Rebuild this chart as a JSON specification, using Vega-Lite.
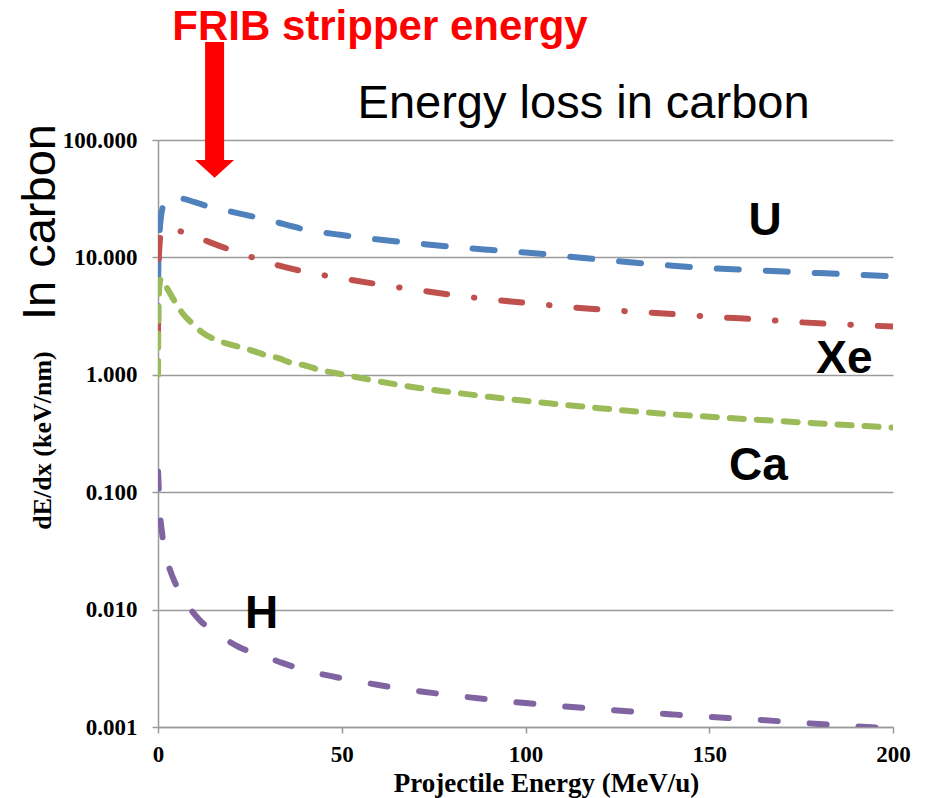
{
  "$schema": "https://vega.github.io/schema/vega-lite/v6.json",
  "width": 735,
  "height": 587,
  "autosize": "none",
  "padding": {"left": 158, "top": 140, "right": 33, "bottom": 71},
  "background": "white",
  "config": {"view": {"stroke": null}},
  "datasets": {
    "curves": [
      {"s": "U", "E": 0.01, "v": 2.5}, {"s": "U", "E": 0.05, "v": 6}, {"s": "U", "E": 0.15, "v": 11}, {"s": "U", "E": 0.4, "v": 16}, {"s": "U", "E": 0.8, "v": 22}, {"s": "U", "E": 1.3, "v": 27}, {"s": "U", "E": 2, "v": 30}, {"s": "U", "E": 3.5, "v": 32}, {"s": "U", "E": 5, "v": 32.2}, {"s": "U", "E": 7, "v": 31.5}, {"s": "U", "E": 10, "v": 29.5}, {"s": "U", "E": 15, "v": 26.5}, {"s": "U", "E": 20, "v": 24.5}, {"s": "U", "E": 30, "v": 20.8}, {"s": "U", "E": 40, "v": 17.3}, {"s": "U", "E": 50, "v": 15.5}, {"s": "U", "E": 60, "v": 14.2}, {"s": "U", "E": 70, "v": 13.2}, {"s": "U", "E": 80, "v": 12.3}, {"s": "U", "E": 90, "v": 11.6}, {"s": "U", "E": 100, "v": 11.0}, {"s": "U", "E": 120, "v": 9.6}, {"s": "U", "E": 140, "v": 8.5}, {"s": "U", "E": 150, "v": 8.1}, {"s": "U", "E": 160, "v": 7.85}, {"s": "U", "E": 180, "v": 7.35}, {"s": "U", "E": 200, "v": 6.9},
      {"s": "Xe", "E": 0.01, "v": 2.2}, {"s": "Xe", "E": 0.05, "v": 4.5}, {"s": "Xe", "E": 0.15, "v": 8}, {"s": "Xe", "E": 0.4, "v": 12.5}, {"s": "Xe", "E": 0.8, "v": 16}, {"s": "Xe", "E": 1.4, "v": 17.3}, {"s": "Xe", "E": 3, "v": 17.2}, {"s": "Xe", "E": 6, "v": 16.7}, {"s": "Xe", "E": 8.5, "v": 16.1}, {"s": "Xe", "E": 13, "v": 13.9}, {"s": "Xe", "E": 20, "v": 11.5}, {"s": "Xe", "E": 27, "v": 9.7}, {"s": "Xe", "E": 33, "v": 8.5}, {"s": "Xe", "E": 40, "v": 7.55}, {"s": "Xe", "E": 48, "v": 6.8}, {"s": "Xe", "E": 60, "v": 5.9}, {"s": "Xe", "E": 70, "v": 5.3}, {"s": "Xe", "E": 80, "v": 4.8}, {"s": "Xe", "E": 90, "v": 4.4}, {"s": "Xe", "E": 100, "v": 4.1}, {"s": "Xe", "E": 120, "v": 3.6}, {"s": "Xe", "E": 140, "v": 3.3}, {"s": "Xe", "E": 150, "v": 3.13}, {"s": "Xe", "E": 163, "v": 2.97}, {"s": "Xe", "E": 175, "v": 2.8}, {"s": "Xe", "E": 185, "v": 2.7}, {"s": "Xe", "E": 200, "v": 2.58},
      {"s": "Ca", "E": 0.01, "v": 1.0}, {"s": "Ca", "E": 0.05, "v": 1.8}, {"s": "Ca", "E": 0.1, "v": 2.8}, {"s": "Ca", "E": 0.2, "v": 4.2}, {"s": "Ca", "E": 0.4, "v": 5.8}, {"s": "Ca", "E": 0.8, "v": 6.6}, {"s": "Ca", "E": 1.5, "v": 6.2}, {"s": "Ca", "E": 2.7, "v": 5.3}, {"s": "Ca", "E": 4.6, "v": 4.2}, {"s": "Ca", "E": 6.5, "v": 3.4}, {"s": "Ca", "E": 9.5, "v": 2.7}, {"s": "Ca", "E": 12, "v": 2.3}, {"s": "Ca", "E": 15.5, "v": 2.0}, {"s": "Ca", "E": 20, "v": 1.8}, {"s": "Ca", "E": 25, "v": 1.63}, {"s": "Ca", "E": 29, "v": 1.48}, {"s": "Ca", "E": 33, "v": 1.38}, {"s": "Ca", "E": 36, "v": 1.27}, {"s": "Ca", "E": 40, "v": 1.2}, {"s": "Ca", "E": 44, "v": 1.1}, {"s": "Ca", "E": 48, "v": 1.04}, {"s": "Ca", "E": 60, "v": 0.88}, {"s": "Ca", "E": 70, "v": 0.78}, {"s": "Ca", "E": 80, "v": 0.71}, {"s": "Ca", "E": 90, "v": 0.65}, {"s": "Ca", "E": 100, "v": 0.6}, {"s": "Ca", "E": 120, "v": 0.52}, {"s": "Ca", "E": 140, "v": 0.46}, {"s": "Ca", "E": 150, "v": 0.44}, {"s": "Ca", "E": 160, "v": 0.42}, {"s": "Ca", "E": 180, "v": 0.385}, {"s": "Ca", "E": 200, "v": 0.355},
      {"s": "H", "E": 0.01, "v": 0.15}, {"s": "H", "E": 0.1, "v": 0.13}, {"s": "H", "E": 0.3, "v": 0.09}, {"s": "H", "E": 0.6, "v": 0.062}, {"s": "H", "E": 1, "v": 0.048}, {"s": "H", "E": 1.5, "v": 0.036}, {"s": "H", "E": 2.5, "v": 0.026}, {"s": "H", "E": 4.1, "v": 0.0186}, {"s": "H", "E": 6.8, "v": 0.0126}, {"s": "H", "E": 11.4, "v": 0.0081}, {"s": "H", "E": 16, "v": 0.0063}, {"s": "H", "E": 22, "v": 0.0048}, {"s": "H", "E": 28, "v": 0.0041}, {"s": "H", "E": 34, "v": 0.0035}, {"s": "H", "E": 40, "v": 0.00305}, {"s": "H", "E": 50, "v": 0.0026}, {"s": "H", "E": 60, "v": 0.00228}, {"s": "H", "E": 70, "v": 0.00204}, {"s": "H", "E": 80, "v": 0.00186}, {"s": "H", "E": 90, "v": 0.00172}, {"s": "H", "E": 100, "v": 0.0016}, {"s": "H", "E": 120, "v": 0.00142}, {"s": "H", "E": 140, "v": 0.00128}, {"s": "H", "E": 150, "v": 0.00122}, {"s": "H", "E": 160, "v": 0.00117}, {"s": "H", "E": 180, "v": 0.00106}, {"s": "H", "E": 200, "v": 0.00097}
    ],
    "labels": [
      {"t": "U", "E": 165.2, "v": 15.5},
      {"t": "Xe", "E": 186.8, "v": 1.035},
      {"t": "Ca", "E": 163.4, "v": 0.127},
      {"t": "H", "E": 28.2, "v": 0.00697}
    ],
    "title": [{"t": "Energy loss in carbon", "E": 115.8, "v": 154}],
    "frib": [{"t": "FRIB stripper energy", "E": 60.4, "v": 711}],
    "side": [{"t": "In carbon", "E": -28, "v": 20}],
    "arrow": [{"E": 15.4, "top": 684, "bottom": 67.7}]
  },
  "layer": [
    {
      "data": {"name": "curves"},
      "mark": {"type": "line", "strokeWidth": 6, "strokeCap": "round", "interpolate": "monotone", "clip": true},
      "encoding": {
        "x": {"field": "E", "type": "quantitative",
          "scale": {"domain": [0, 200], "nice": false, "zero": false},
          "axis": {"values": [0, 50, 100, 150, 200], "grid": false, "title": "Projectile Energy (MeV/u)",
            "labelFont": "Liberation Serif", "labelFontWeight": "bold", "labelFontSize": 23, "labelColor": "black",
            "labelPadding": 10, "tickSize": 6, "tickColor": "#9A9A9A", "tickWidth": 1.5, "domainColor": "#9A9A9A", "domainWidth": 1.5,
            "titleFont": "Liberation Serif", "titleFontWeight": "bold", "titleFontSize": 27, "titleColor": "black",
            "titleX": 388, "titleY": 64, "titleBaseline": "alphabetic", "titleAlign": "center", "labelFlush": false}},
        "y": {"field": "v", "type": "quantitative",
          "scale": {"type": "log", "domain": [0.001, 100], "nice": false},
          "axis": {"values": [0.001, 0.01, 0.1, 1, 10, 100], "format": ".3f", "grid": true, "gridColor": "#9A9A9A", "gridWidth": 1.5,
            "title": "dE/dx (keV/nm)",
            "labelFont": "Liberation Serif", "labelFontWeight": "bold", "labelFontSize": 23, "labelColor": "black",
            "labelPadding": 15, "tickSize": 6, "tickColor": "#9A9A9A", "tickWidth": 1.5, "domainColor": "#9A9A9A", "domainWidth": 1.5,
            "titleFont": "Liberation Serif", "titleFontWeight": "bold", "titleFontSize": 26, "titleColor": "black",
            "titleX": -108, "titleY": 300, "titleAngle": 270, "titleBaseline": "alphabetic", "titleAlign": "center", "labelFlush": false}},
        "color": {"field": "s", "type": "nominal",
          "scale": {"domain": ["U", "Xe", "Ca", "H"], "range": ["#4F81BD", "#C0504D", "#9BBB59", "#8064A2"]}, "legend": null},
        "strokeDash": {"field": "s", "type": "nominal",
          "scale": {"domain": ["U", "Xe", "Ca", "H"], "range": [[22, 27], [21, 27, 0.5, 27], [14, 13], [17, 32]]}, "legend": null}
      }
    },
    {
      "data": {"name": "labels"},
      "mark": {"type": "text", "font": "Liberation Sans", "fontWeight": "bold", "fontSize": 46, "color": "black", "align": "center", "baseline": "alphabetic"},
      "encoding": {
        "x": {"field": "E", "type": "quantitative"},
        "y": {"field": "v", "type": "quantitative"},
        "text": {"field": "t"}
      }
    },
    {
      "data": {"name": "title"},
      "mark": {"type": "text", "font": "Liberation Sans", "fontSize": 47, "color": "black", "align": "center", "baseline": "alphabetic"},
      "encoding": {
        "x": {"field": "E", "type": "quantitative"},
        "y": {"field": "v", "type": "quantitative"},
        "text": {"field": "t"}
      }
    },
    {
      "data": {"name": "frib"},
      "mark": {"type": "text", "font": "Liberation Sans", "fontWeight": "bold", "fontSize": 42, "color": "#FF0000", "align": "center", "baseline": "alphabetic"},
      "encoding": {
        "x": {"field": "E", "type": "quantitative"},
        "y": {"field": "v", "type": "quantitative"},
        "text": {"field": "t"}
      }
    },
    {
      "data": {"name": "side"},
      "mark": {"type": "text", "font": "Liberation Sans", "fontSize": 47, "color": "black", "align": "center", "baseline": "alphabetic", "angle": 270},
      "encoding": {
        "x": {"field": "E", "type": "quantitative"},
        "y": {"field": "v", "type": "quantitative"},
        "text": {"field": "t"}
      }
    },
    {
      "data": {"name": "arrow"},
      "mark": {"type": "rule", "color": "#FF0000", "strokeWidth": 19, "strokeCap": "butt"},
      "encoding": {
        "x": {"field": "E", "type": "quantitative"},
        "y": {"field": "top", "type": "quantitative"},
        "y2": {"field": "bottom"}
      }
    },
    {
      "data": {"name": "arrow"},
      "mark": {"type": "point", "shape": "M-1,0L1,0L0,0.92Z", "size": 1521, "filled": true, "color": "#FF0000", "opacity": 1, "strokeWidth": 0},
      "encoding": {
        "x": {"field": "E", "type": "quantitative"},
        "y": {"field": "bottom", "type": "quantitative"}
      }
    }
  ]
}
